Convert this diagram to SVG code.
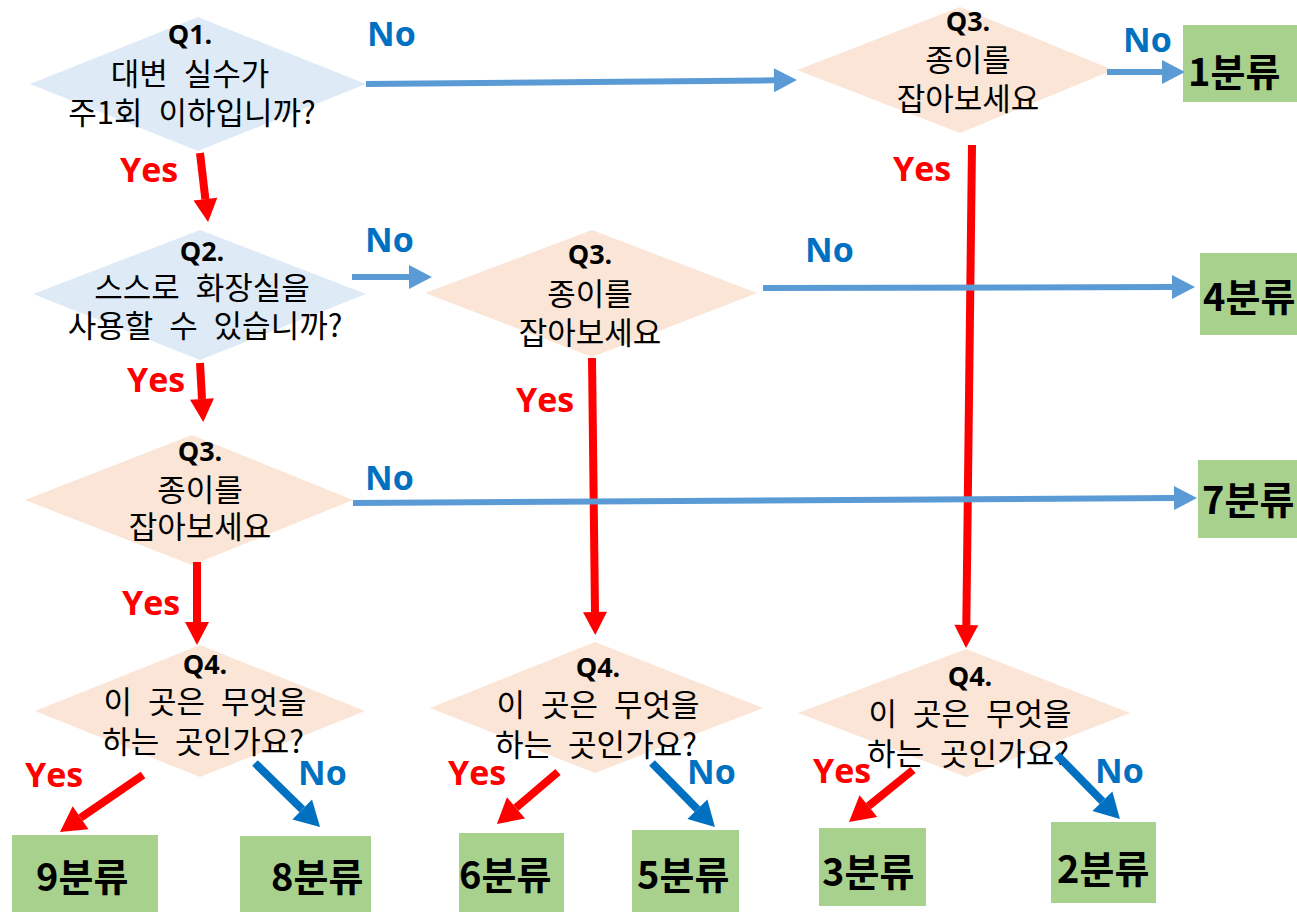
<svg xmlns="http://www.w3.org/2000/svg" width="1297" height="912" viewBox="0 0 1297 912">
<style>
.bg{fill:#ffffff}
.qb{fill:#DEEBF7}
.qp{fill:#FBE5D6}
.box{fill:#A9D18E}
.ql{font-family:"Open Sans","Noto Sans CJK KR",sans-serif;font-weight:bold;font-size:27px;fill:#000;text-anchor:middle}
.qt{font-family:"Noto Sans CJK KR",sans-serif;font-size:31px;fill:#000;text-anchor:middle;word-spacing:9px}
.bt{font-family:"Noto Sans CJK KR",sans-serif;font-weight:bold;font-size:38px;fill:#000}
.yes{font-family:"Open Sans",sans-serif;font-weight:bold;font-size:34px;fill:#FF0000}
.no{font-family:"Open Sans",sans-serif;font-weight:bold;font-size:34px;fill:#0070C0}
.r{stroke:#FF0000;stroke-width:8;fill:none}
.b{stroke:#5B9BD5;stroke-width:6;fill:none}
.d{stroke:#0070C0;stroke-width:8;fill:none}
</style>
<defs>
<marker id="rh" markerUnits="userSpaceOnUse" markerWidth="30" markerHeight="30" viewBox="0 -15 30 30" refX="0" refY="0" orient="auto" overflow="visible"><path d="M0,-12 L23,0 L0,12 z" fill="#FF0000"/></marker>
<marker id="bh" markerUnits="userSpaceOnUse" markerWidth="30" markerHeight="30" viewBox="0 -15 30 30" refX="0" refY="0" orient="auto" overflow="visible"><path d="M0,-12 L23,0 L0,12 z" fill="#5B9BD5"/></marker>
<marker id="rh2" markerUnits="userSpaceOnUse" markerWidth="30" markerHeight="30" viewBox="0 -15 30 30" refX="0" refY="0" orient="auto" overflow="visible"><path d="M0,-14 L25,0 L0,14 z" fill="#FF0000"/></marker>
<marker id="dh" markerUnits="userSpaceOnUse" markerWidth="30" markerHeight="30" viewBox="0 -15 30 30" refX="0" refY="0" orient="auto" overflow="visible"><path d="M0,-14 L25,0 L0,14 z" fill="#0070C0"/></marker>
</defs>
<rect class="bg" x="0" y="0" width="1297" height="912"/>

<g id="q1">
<polygon class="qb" points="30,84 198,17 366,84 198,151"/>
<text class="ql" x="190" y="44">Q1.</text>
<text class="qt" x="190" y="85">대변 실수가</text>
<text class="qt" x="192" y="124">주1회 이하입니까?</text>
</g>
<g id="q2">
<polygon class="qb" points="33,294 200,230 366,294 200,360"/>
<text class="ql" x="202" y="261">Q2.</text>
<text class="qt" x="202" y="299">스스로 화장실을</text>
<text class="qt" x="205" y="337">사용할 수 있습니까?</text>
</g>
<g id="q3-left">
<polygon class="qp" points="25,500 192,435 353,500 192,565"/>
<text class="ql" x="200" y="461">Q3.</text>
<text class="qt" x="200" y="501">종이를</text>
<text class="qt" x="200" y="538">잡아보세요</text>
</g>
<g id="q3-mid">
<polygon class="qp" points="425,293 592,230 757,293 592,357"/>
<text class="ql" x="590" y="264">Q3.</text>
<text class="qt" x="590" y="305">종이를</text>
<text class="qt" x="590" y="344">잡아보세요</text>
</g>
<g id="q3-right">
<polygon class="qp" points="797,70 960,7 1113,70 960,133"/>
<text class="ql" x="968" y="31">Q3.</text>
<text class="qt" x="968" y="71">종이를</text>
<text class="qt" x="968" y="110">잡아보세요</text>
</g>
<g id="q4-left">
<polygon class="qp" points="35,711 200,645 365,711 200,777"/>
<text class="ql" x="205" y="674">Q4.</text>
<text class="qt" x="205" y="713">이 곳은 무엇을</text>
<text class="qt" x="203" y="753">하는 곳인가요?</text>
</g>
<g id="q4-mid">
<polygon class="qp" points="430,708 595,642 763,708 595,773"/>
<text class="ql" x="598" y="677">Q4.</text>
<text class="qt" x="598" y="716">이 곳은 무엇을</text>
<text class="qt" x="596" y="756">하는 곳인가요?</text>
</g>
<g id="q4-right">
<polygon class="qp" points="798,713 966,649 1130,713 966,777"/>
<text class="ql" x="970" y="686">Q4.</text>
<text class="qt" x="970" y="725">이 곳은 무엇을</text>
<text class="qt" x="968" y="765">하는 곳인가요?</text>
</g>

<g id="c1"><rect class="box" x="1183" y="25" width="114" height="77"/><text class="bt" x="1188" y="86">1분류</text></g>
<g id="c4"><rect class="box" x="1200" y="253" width="97" height="82"/><text class="bt" x="1203" y="311">4분류</text></g>
<g id="c7"><rect class="box" x="1198" y="460" width="99" height="78"/><text class="bt" x="1202" y="514">7분류</text></g>
<g id="c9"><rect class="box" x="12" y="835" width="146" height="77"/><text class="bt" x="36" y="891">9분류</text></g>
<g id="c8"><rect class="box" x="240" y="836" width="131" height="76"/><text class="bt" x="271" y="891">8분류</text></g>
<g id="c6"><rect class="box" x="459" y="833" width="105" height="79"/><text class="bt" x="459" y="889">6분류</text></g>
<g id="c5"><rect class="box" x="632" y="830" width="107" height="82"/><text class="bt" x="637" y="889">5분류</text></g>
<g id="c3"><rect class="box" x="819" y="828" width="107" height="78"/><text class="bt" x="822" y="886">3분류</text></g>
<g id="c2"><rect class="box" x="1051" y="822" width="105" height="81"/><text class="bt" x="1057" y="883">2분류</text></g>

<g id="connectors">
<line class="b" x1="366" y1="84" x2="774" y2="80.3" marker-end="url(#bh)"/>
<line class="r" x1="200" y1="153" x2="205.4" y2="199.2" marker-end="url(#rh)"/>
<line class="b" x1="1107" y1="72" x2="1162" y2="72" marker-end="url(#bh)"/>
<line class="r" x1="972" y1="145" x2="966.3" y2="625" marker-end="url(#rh)"/>
<line class="r" x1="200" y1="363" x2="202" y2="399" marker-end="url(#rh)"/>
<line class="b" x1="352" y1="277" x2="409" y2="277" marker-end="url(#bh)"/>
<line class="b" x1="763" y1="288" x2="1172" y2="287" marker-end="url(#bh)"/>
<line class="r" x1="592" y1="358" x2="595" y2="612" marker-end="url(#rh)"/>
<line class="b" x1="353" y1="503" x2="1174" y2="498.1" marker-end="url(#bh)"/>
<line class="r" x1="197" y1="562" x2="197" y2="622" marker-end="url(#rh)"/>
<line class="r" x1="143" y1="775" x2="80.6" y2="817.8" marker-end="url(#rh2)"/>
<line class="d" x1="255" y1="763" x2="302.2" y2="809.4" marker-end="url(#dh)"/>
<line class="r" x1="558" y1="772" x2="516" y2="807.8" marker-end="url(#rh2)"/>
<line class="d" x1="652" y1="763" x2="697.4" y2="809.2" marker-end="url(#dh)"/>
<line class="r" x1="913" y1="770" x2="868.4" y2="806.2" marker-end="url(#rh2)"/>
<line class="d" x1="1057" y1="755" x2="1102.4" y2="801.2" marker-end="url(#dh)"/>

<text class="no" x="367" y="46">No</text>
<text class="no" x="1123" y="52">No</text>
<text class="no" x="365" y="252">No</text>
<text class="no" x="805" y="262">No</text>
<text class="no" x="365" y="490">No</text>
<text class="no" x="298" y="785">No</text>
<text class="no" x="687" y="784">No</text>
<text class="no" x="1095" y="783">No</text>
<text class="yes" x="120" y="182">Yes</text>
<text class="yes" x="893" y="181">Yes</text>
<text class="yes" x="127" y="392">Yes</text>
<text class="yes" x="516" y="412">Yes</text>
<text class="yes" x="122" y="615">Yes</text>
<text class="yes" x="25" y="787">Yes</text>
<text class="yes" x="448" y="785">Yes</text>
<text class="yes" x="813" y="783">Yes</text>
</g>
</svg>
